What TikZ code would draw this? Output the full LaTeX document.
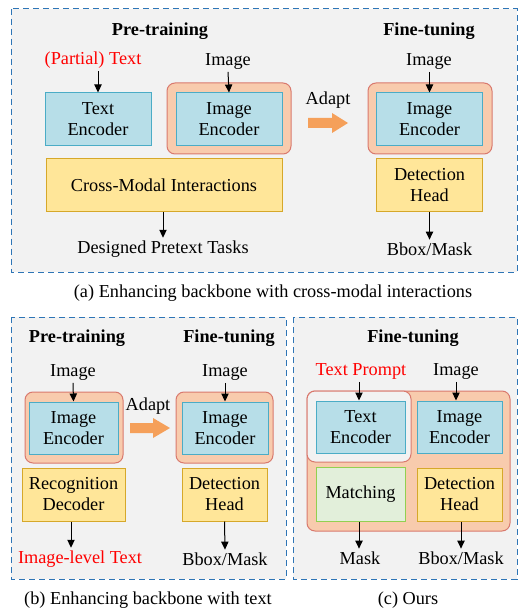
\documentclass[tikz,border=0pt]{standalone}
\usepackage{fontspec}
\setmainfont{Liberation Serif}
\usetikzlibrary{arrows.meta}

\definecolor{panelgray}{HTML}{F2F2F2}
\definecolor{dashblue}{RGB}{46,117,182}
\definecolor{encfill}{HTML}{B7DEE8}
\definecolor{encline}{HTML}{4BACC6}
\definecolor{outfill}{HTML}{F8CBAD}
\definecolor{outline}{HTML}{D9796E}
\definecolor{headfill}{HTML}{FFE699}
\definecolor{headline}{HTML}{D6A82A}
\definecolor{matchfill}{HTML}{E2EFDA}
\definecolor{matchline}{HTML}{92D050}
\definecolor{adaptorange}{HTML}{F5A05A}

\newcommand\figfont{\fontsize{13.7}{15.8}\selectfont}
% orange block arrow: left end (#1,#2), head starts at #3, tip at #4
\def\adaptarrow(#1,#2,#3,#4){\fill[adaptorange] (#1,#2-5) -- (#3,#2-5) -- (#3,#2-10) -- (#4,#2) -- (#3,#2+10) -- (#3,#2+5) -- (#1,#2+5) -- cycle;}

\tikzset{
  wh/.style 2 args={minimum width=#1*0.75pt, minimum height=#2*0.75pt},
  panel/.style={draw=dashblue, fill=panelgray, line width=0.75pt, dash pattern=on 4.5pt off 3pt},
  outerbox/.style={draw=outline, fill=outfill, rounded corners=6pt, line width=0.75pt, inner sep=0pt},
  encbox/.style={draw=encline, fill=encfill, line width=0.75pt, align=center, inner sep=0pt},
  headbox/.style={draw=headline, fill=headfill, line width=0.75pt, align=center, inner sep=0pt},
  matchbox/.style={draw=matchline, fill=matchfill, line width=0.75pt, align=center, inner sep=0pt},
  lbl/.style={inner sep=2pt},
  redlbl/.style={lbl, text=red},
  ttl/.style={font=\figfont\bfseries},
  arr/.style={line width=0.75pt, -{Triangle[length=6pt,width=5.5pt]}},
}

\begin{document}
\begin{tikzpicture}[x=0.75pt, y=-0.75pt, font=\figfont]
	\useasboundingbox (0,0) rectangle (519,609);
	%%%%% (a) %%%%%
	\draw[panel] (11,9) rectangle (517,272);
	
	\node[ttl] (pretitleA) at (160,31) {Pre-training};
	\node[ttl] (fttitleA) at (429,31) {Fine-tuning};
	
	\node[redlbl] (ptext) at (93,60) {(Partial) Text};
	\node[encbox, wh={106}{53}] (tencA) at (98,119.5) {Text\\Encoder};
	
	\node[lbl] (imgA) at (228,61) {Image};
	\node[outerbox, wh={124}{71}] (iencoutA) at (229,118.5) {};
	\node[encbox, wh={106}{53}] (iencA) at (229,119.5) {Image\\Encoder};
	
	\node[headbox, wh={236}{53}] (cmi) at (164,185.5) {Cross-Modal Interactions};
	\node[lbl] (tasks) at (163,249) {Designed Pretext Tasks};
	
	\node[lbl] (adaptA) at (328,100) {Adapt};
	\adaptarrow(308,123,332,348)
	
	\node[lbl] (imgFA) at (429,61) {Image};
	\node[outerbox, wh={124}{71}] (iencoutFA) at (430,118.5) {};
	\node[encbox, wh={106}{53}] (iencFA) at (429.5,119.5) {Image\\Encoder};
	\node[headbox, wh={106}{53}] (dheadA) at (429.5,185.5) {Detection\\Head};
	\node[lbl] (bboxA) at (429.5,249) {Bbox/Mask};
	
	\draw[arr] (ptext.south -| tencA.north) -- (tencA.north);
	\draw[arr] (imgA.south) -- (iencA.north);
	\draw[arr] (cmi.south -| tasks.north) -- (tasks.north);
	\draw[arr] (imgFA.south -| iencFA.north) -- (iencFA.north);
	\draw[arr] (dheadA.south) -- (bboxA.north);
	
	\node (capA) at (273,293) {(a) Enhancing backbone with cross-modal interactions};
	
	%%%%% (b) %%%%%
	\draw[panel] (11,317) rectangle (286,579);
	
	\node[ttl] (pretitleB) at (77,338) {Pre-training};
	\node[ttl] (fttitleB) at (229,338) {Fine-tuning};
	
	\node[lbl] (imgB) at (73,372) {Image};
	\node[outerbox, wh={98}{71}] (iencoutB) at (74,427.5) {};
	\node[encbox, wh={89}{52}] (iencB) at (73.5,428) {Image\\Encoder};
	\node[headbox, wh={103}{53}] (rdec) at (73.5,494.5) {Recognition\\Decoder};
	\node[redlbl] (imtext) at (80,559) {Image-level Text};
	
	\node[lbl] (adaptB) at (148,406) {Adapt};
	\adaptarrow(130,428,153,170)
	
	\node[lbl] (imgFB) at (225,372) {Image};
	\node[outerbox, wh={97}{71}] (iencoutFB) at (224.5,427.5) {};
	\node[encbox, wh={86}{52}] (iencFB) at (225,428) {Image\\Encoder};
	\node[headbox, wh={85}{53}] (dheadB) at (224.5,494.5) {Detection\\Head};
	\node[lbl] (bboxB) at (225,559) {Bbox/Mask};
	
	\draw[arr] (imgB.south) -- (iencB.north);
	\draw[arr] (rdec.south -| 71,0) -- (imtext.north -| 71,0);
	\draw[arr] (imgFB.south) -- (iencFB.north);
	\draw[arr] (dheadB.south) -- (bboxB.north);
	
	\node (capB) at (148,600) {(b) Enhancing backbone with text};
	
	%%%%% (c) %%%%%
	\draw[panel] (293,317) rectangle (517,579);
	
	\node[ttl] (fttitleC) at (413,338) {Fine-tuning};
	
	\node[outerbox, wh={203}{140}] (oursout) at (408.5,461) {};
	\draw[draw=outline, fill=panelgray, rounded corners=6pt, line width=0.75pt] (307,391) rectangle (411,462);
	
	\node[redlbl] (prompt) at (361,371) {Text Prompt};
	\node[lbl] (imgC) at (456,371) {Image};
	\node[encbox, wh={89}{52}] (tencC) at (360.5,427) {Text\\Encoder};
	\node[encbox, wh={85}{52}] (iencC) at (459.5,427) {Image\\Encoder};
	\node[matchbox, wh={89}{54}] (match) at (360.5,494) {Matching};
	\node[headbox, wh={85}{53}] (dheadC) at (459.5,494.5) {Detection\\Head};
	\node[lbl] (maskC) at (360,558) {Mask};
	\node[lbl] (bboxC) at (461,558) {Bbox/Mask};
	
	\draw[arr] (prompt.south -| 359,0) -- (tencC.north -| 359,0);
	\draw[arr] (imgC.south) -- (iencC.north -| imgC.south);
	\draw[arr] (match.south -| 359,0) -- (maskC.north -| 359,0);
	\draw[arr] (dheadC.south -| bboxC.north) -- (bboxC.north);
	
	\node (capC) at (408,600) {(c) Ours};
\end{tikzpicture}
\end{document}
